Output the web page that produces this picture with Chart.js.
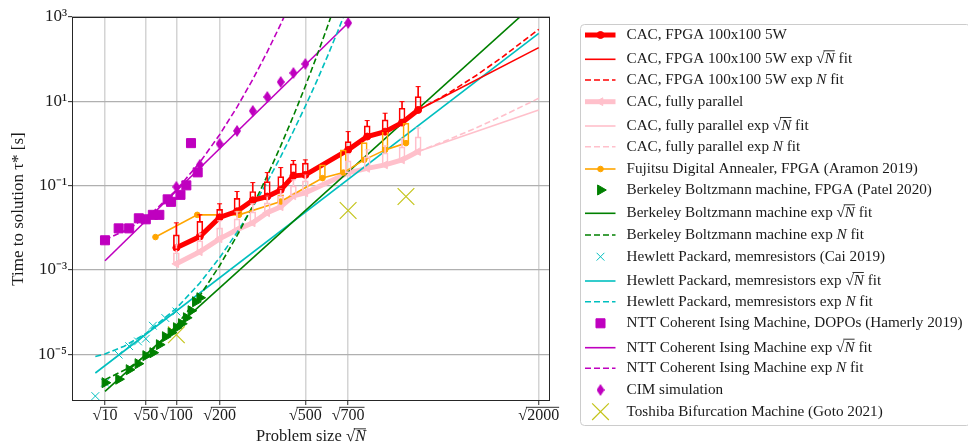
<!DOCTYPE html>
<html><head><meta charset="utf-8">
<script src="https://cdn.jsdelivr.net/npm/chart.js@4.4.1/dist/chart.umd.min.js"></script>
<style>html,body{margin:0;padding:0;background:#fff;}canvas{display:block;}</style>
</head><body>
<canvas id="c" width="968" height="447"></canvas>
<script>
// ---------------- data (x = problem size N, y = time to solution [s]) ----------------
const xTickN = [10, 50, 100, 200, 500, 700, 2000];
const xTickLabels = ['√10', '√50', '√100', '√200', '√500', '√700', '√2000'];
const yTickValues = [1e-5, 1e-3, 1e-1, 1e1, 1e3];
const yTickLabels = ['10⁻⁵', '10⁻³', '10⁻¹', '10¹', '10³'];

// CAC, FPGA 100x100 5W
const cacN = [100, 150, 200, 250, 300, 350, 400, 450, 500, 700, 800, 900, 1000, 1100];
const cacFpga = [3.36e-3, 6.2e-3, 0.0177, 0.0246, 0.0449, 0.0552, 0.0794, 0.171, 0.180, 0.705, 1.46, 1.91, 3.13, 6.25];
const cacFpgaBoxLo = [3.01e-3, 6.12e-3, 0.0173, 0.0274, 0.042, 0.0552, 0.0794, 0.198, 0.185, 0.705, 1.46, 1.91, 3.13, 6.25];
const cacFpgaBoxHi = [6.82e-3, 0.01426, 0.0274, 0.05, 0.0725, 0.125, 0.164, 0.329, 0.341, 1.11, 2.61, 3.62, 6.86, 12.9];
const cacFpgaWhisker = [0.0131, 0.0203, 0.0371, 0.0725, 0.118, 0.204, 0.268, 0.394, 0.408, 1.91, 3.49, 5.22, 9.84, 22.3];
const cacFpgaSqrtFitN = [1100, 2000];
const cacFpgaSqrtFit = [6.25, 187.5];
const cacFpgaNFitN = [1100, 1300, 1500, 1700, 2000];
const cacFpgaNFit = [6.25, 15.5, 41, 112, 511];

// CAC, fully parallel
const cacPar = [1.40e-3, 2.70e-3, 5.48e-3, 8.97e-3, 0.0131, 0.0227, 0.0315, 0.0573, 0.0675, 0.201, 0.257, 0.311, 0.408, 0.643];
const cacParBoxHi = [2.56e-3, 4.92e-3, 0.01, 0.0163, 0.0239, 0.0391, 0.0573, 0.0989, 0.13, 0.387, 0.481, 0.598, 0.83, 1.43];
const cacParWhisker = [3.95e-3, 7.21e-3, 0.01466, 0.0239, 0.0371, 0.0573, 0.084, 0.137, 0.19, 0.567, 0.705, 0.877, 1.29, 2.34];
const cacParSqrtFitN = [1100, 2000];
const cacParSqrtFit = [0.643, 6.25];
const cacParNFitN = [1100, 1300, 1500, 1700, 2000];
const cacParNFit = [0.643, 1.23, 2.35, 4.49, 11.8];

// Fujitsu Digital Annealer
const fujN = [64, 144, 256, 400, 576, 676, 784, 900, 1024];
const fuj = [6.03e-3, 0.0203, 0.0203, 0.042, 0.151, 0.204, 0.408, 0.705, 1.02];
const fujBoxN = [256, 400, 576, 676, 784, 900, 1024];
const fujBoxLo = [0.0203, 0.042, 0.151, 0.204, 0.408, 0.705, 1.02];
const fujBoxHi = [0.0253, 0.0605, 0.311, 0.705, 1.05, 2.02, 3.03];

// Berkeley Boltzmann machine
const bbmN = [10, 20, 30, 40, 50, 60, 70, 80, 90, 100, 110, 120, 130, 140, 150];
const bbm = [2.12e-6, 2.57e-6, 4.31e-6, 5.98e-6, 9.27e-6, 1.09e-5, 1.69e-5, 2.61e-5, 3.25e-5, 4.27e-5, 5.31e-5, 7.36e-5, 1.08e-4, 1.76e-4, 2.19e-4];
const bbmSqrtFitN = [10, 2000];
const bbmSqrtFit = [1.32e-6, 2540];
const bbmNFitN = [10, 30, 50, 75, 100, 150, 200, 250, 300, 350, 400, 450, 500, 550, 600, 650];
const bbmNFit = [2.5e-6, 4.8e-6, 9.3e-6, 2.1e-5, 4.8e-5, 2.45e-4, 1.26e-3, 6.5e-3, 0.033, 0.17, 0.875, 4.5, 23, 118, 610, 3100];

// Hewlett Packard memristors
const hpN = [5, 10, 20, 30, 40, 50, 60, 80, 100];
const hp = [1.02e-6, 2.12e-6, 9.8e-6, 1.56e-5, 2.02e-5, 2.34e-5, 4.76e-5, 7.24e-5, 1.04e-4];
const hpSqrtFitN = [5, 2000];
const hpSqrtFit = [3.6e-6, 411];
const hpNFitN = [5, 10, 25, 50, 100, 150, 200, 250, 300, 350, 400, 450, 500, 550, 600, 650, 700];
const hpNFit = [8.9e-6, 1.02e-5, 1.55e-5, 3.1e-5, 1.23e-4, 4.9e-4, 1.95e-3, 7.8e-3, 0.031, 0.123, 0.49, 1.95, 7.7, 30, 120, 480, 1900];

// NTT Coherent Ising Machine
const nttN = [10, 20, 30, 41, 50, 60, 70, 84, 90, 108, 120, 130, 145];
const ntt = [5.06e-3, 9.7e-3, 9.7e-3, 0.0168, 0.0159, 0.0203, 0.0203, 0.0473, 0.0413, 0.0605, 0.1016, 1.02, 0.2066];
const nttSqrtFitN = [10, 700];
const nttSqrtFit = [1.65e-3, 721];
const nttNFitN = [10, 30, 60, 100, 150, 200, 250, 300, 350, 400, 450];
const nttNFit = [5.2e-3, 9.5e-3, 0.0236, 0.0787, 0.356, 1.61, 7.3, 33, 149, 676, 3050];

// CIM simulation
const cimN = [100, 150, 200, 250, 300, 350, 400, 450, 500, 700];
const cim = [0.0937, 0.311, 0.979, 1.99, 5.93, 12.7, 28.8, 47.1, 76.9, 721];

// Toshiba Bifurcation Machine
const tbmN = [100, 700, 1024];
const tbm = [2.91e-5, 0.0257, 0.0552];

// ---------------- helpers ----------------
const FAMILY = "'Liberation Serif', 'Times New Roman', serif";
const pts = (ns, vs) => ns.map((n, i) => ({ x: Math.sqrt(n), y: vs[i] }));
const rng = (ns, lo, hi) => ns.map((n, i) => ({ x: Math.sqrt(n), y: [lo[i], hi[i]] }));

const RED = '#ff0000', PINK = '#ffc0cb', ORANGE = '#ffa500', GREEN = '#008000',
      CYAN = '#00bfbf', MAG = '#bf00bf', OLIVE = '#c4c41a';
const DASH = [6, 3];

function thinDiamond(w, h, color) {
  const c = document.createElement('canvas'); c.width = w; c.height = h;
  const g = c.getContext('2d'); g.fillStyle = color; g.beginPath();
  g.moveTo(w / 2, 0); g.lineTo(w, h / 2); g.lineTo(w / 2, h); g.lineTo(0, h / 2); g.closePath(); g.fill();
  return c;
}
const diamondImg = thinDiamond(8, 12, MAG);

function lineDs(label, data, color, width, dash, order) {
  return { type: 'line', label, data, borderColor: color, borderWidth: width, borderDash: dash || [],
    pointRadius: 0, fill: false, order: order };
}
function markerDs(label, data, color, style, radius, rotation, bw, order) {
  return { type: 'line', label, data, showLine: false, borderColor: color, backgroundColor: color,
    pointStyle: style, pointRadius: radius, pointRotation: rotation || 0,
    pointBackgroundColor: color, pointBorderColor: color, pointBorderWidth: bw || 1, order: order || 0 };
}
function boxDs(data, color) {
  return { type: 'bar', data, borderColor: color, backgroundColor: 'rgba(0,0,0,0)', borderWidth: 1,
    borderSkipped: false, barThickness: 6, grouped: false, order: 1 };
}
function whiskDs(data, color) {
  return { type: 'bar', data, backgroundColor: color, borderWidth: 0, barThickness: 1, grouped: false, order: 1 };
}
function capDs(data, color) {
  return { type: 'line', data, showLine: false, pointStyle: 'line', pointRadius: 2.5,
    pointBorderColor: color, pointBorderWidth: 1, order: 1 };
}

const datasets = [
  Object.assign(lineDs('CAC, FPGA 100x100 5W', pts(cacN, cacFpga), RED, 5, null, 2),
    { pointStyle: 'circle', pointRadius: 3.5, pointBorderWidth: 1, pointBackgroundColor: RED, pointBorderColor: RED }),
  lineDs('CAC, FPGA 100x100 5W exp √N fit', pts(cacFpgaSqrtFitN, cacFpgaSqrtFit), RED, 1.6, null, 3),
  lineDs('CAC, FPGA 100x100 5W exp N fit', pts(cacFpgaNFitN, cacFpgaNFit), RED, 1.6, DASH, 3),
  Object.assign(lineDs('CAC, fully parallel', pts(cacN, cacPar), PINK, 5, null, 4),
    { pointStyle: 'triangle', pointRotation: -90, pointRadius: 4.5, pointBorderWidth: 1, pointBackgroundColor: PINK, pointBorderColor: PINK }),
  lineDs('CAC, fully parallel exp √N fit', pts(cacParSqrtFitN, cacParSqrtFit), PINK, 1.6, null, 3),
  lineDs('CAC, fully parallel exp N fit', pts(cacParNFitN, cacParNFit), PINK, 1.6, DASH, 3),
  Object.assign(lineDs('Fujitsu Digital Annealer, FPGA (Aramon 2019)', pts(fujN, fuj), ORANGE, 1.6, null, 2),
    { pointStyle: 'circle', pointRadius: 2.8, pointBorderWidth: 1, pointBackgroundColor: ORANGE, pointBorderColor: ORANGE }),
  markerDs('Berkeley Boltzmann machine, FPGA (Patel 2020)', pts(bbmN, bbm), GREEN, 'triangle', 5.8, 90, 1, 0),
  lineDs('Berkeley Boltzmann machine exp √N fit', pts(bbmSqrtFitN, bbmSqrtFit), GREEN, 1.6, null, 3),
  lineDs('Berkeley Boltzmann machine exp N fit', pts(bbmNFitN, bbmNFit), GREEN, 1.6, DASH, 3),
  markerDs('Hewlett Packard, memresistors (Cai 2019)', pts(hpN, hp), CYAN, 'crossRot', 5.5, 0, 1, 0),
  lineDs('Hewlett Packard, memresistors exp √N fit', pts(hpSqrtFitN, hpSqrtFit), CYAN, 1.6, null, 3),
  lineDs('Hewlett Packard, memresistors exp N fit', pts(hpNFitN, hpNFit), CYAN, 1.6, DASH, 3),
  markerDs('NTT Coherent Ising Machine, DOPOs (Hamerly 2019)', pts(nttN, ntt), MAG, 'rect', 6.4, 0, 1, 0),
  lineDs('NTT Coherent Ising Machine exp √N fit', pts(nttSqrtFitN, nttSqrtFit), MAG, 1.6, null, 3),
  lineDs('NTT Coherent Ising Machine exp N fit', pts(nttNFitN, nttNFit), MAG, 1.6, DASH, 3),
  markerDs('CIM simulation', pts(cimN, cim), MAG, diamondImg, 5, 0, 1, 0),
  markerDs('Toshiba Bifurcation Machine (Goto 2021)', pts(tbmN, tbm), OLIVE, 'crossRot', 11.8, 0, 1.2, 0),
  // box plots
  boxDs(rng(cacN, cacFpgaBoxLo, cacFpgaBoxHi), RED),
  whiskDs(rng(cacN, cacFpgaBoxHi, cacFpgaWhisker), RED),
  capDs(pts(cacN, cacFpgaWhisker), RED),
  boxDs(rng(cacN, cacPar, cacParBoxHi), PINK),
  whiskDs(rng(cacN, cacParBoxHi, cacParWhisker), PINK),
  capDs(pts(cacN, cacParWhisker), PINK),
  boxDs(rng(fujBoxN, fujBoxLo, fujBoxHi), ORANGE)
];

// ---------------- text helpers ----------------
function richParts(str) {
  const out = []; const re = /√(N|\d+)|\bN\b/g; let last = 0, m;
  while ((m = re.exec(str))) {
    if (m.index > last) out.push({ t: str.slice(last, m.index) });
    if (m[0][0] === '√') { out.push({ t: '√' }); out.push({ t: m[1], italic: m[1] === 'N', over: true }); }
    else out.push({ t: 'N', italic: true });
    last = re.lastIndex;
  }
  if (last < str.length) out.push({ t: str.slice(last) });
  return out;
}
function drawRich(ctx, str, x, y, size, align) {
  const normal = size + 'px ' + FAMILY, italic = 'italic ' + normal;
  const parts = richParts(str);
  ctx.textBaseline = 'middle'; ctx.textAlign = 'left';
  let total = 0;
  parts.forEach(p => { ctx.font = p.italic ? italic : normal; p.w = ctx.measureText(p.t).width; total += p.w; });
  ctx.font = normal;
  const asc = ctx.measureText('√').actualBoundingBoxAscent;
  let cx = align === 'center' ? x - total / 2 : x;
  parts.forEach(p => {
    ctx.font = p.italic ? italic : normal;
    ctx.fillText(p.t, cx, y);
    if (p.over) {
      ctx.beginPath(); ctx.lineWidth = 0.9;
      ctx.moveTo(cx - 1.2, y - asc + 0.5); ctx.lineTo(cx + p.w, y - asc + 0.5); ctx.stroke();
    }
    cx += p.w;
  });
}
function drawMarker(ctx, ds, x, y) {
  const st = ds.pointStyle, r = ds.pointRadius, rot = (ds.pointRotation || 0) * Math.PI / 180;
  ctx.save();
  ctx.fillStyle = ds.pointBackgroundColor; ctx.strokeStyle = ds.pointBorderColor; ctx.lineWidth = ds.pointBorderWidth || 1;
  ctx.setLineDash([]);
  if (st && typeof st === 'object') { ctx.drawImage(st, x - st.width / 2, y - st.height / 2); ctx.restore(); return; }
  ctx.beginPath();
  if (st === 'circle') { ctx.arc(x, y, r, 0, Math.PI * 2); ctx.fill(); ctx.stroke(); }
  else if (st === 'triangle') {
    let a = rot;
    ctx.moveTo(x + Math.sin(a) * r, y - Math.cos(a) * r); a += 2 * Math.PI / 3;
    ctx.lineTo(x + Math.sin(a) * r, y - Math.cos(a) * r); a += 2 * Math.PI / 3;
    ctx.lineTo(x + Math.sin(a) * r, y - Math.cos(a) * r); ctx.closePath(); ctx.fill(); ctx.stroke();
  } else if (st === 'rect') { const h = r * Math.SQRT1_2; ctx.rect(x - h, y - h, 2 * h, 2 * h); ctx.fill(); ctx.stroke(); }
  else if (st === 'crossRot') {
    const h = r * Math.SQRT1_2;
    ctx.moveTo(x - h, y - h); ctx.lineTo(x + h, y + h); ctx.moveTo(x - h, y + h); ctx.lineTo(x + h, y - h); ctx.stroke();
  }
  ctx.restore();
}

const decor = {
  id: 'decor',
  afterDraw(chart) {
    const ctx = chart.ctx, a = chart.chartArea;
    ctx.save();
    // axes frame
    ctx.strokeStyle = '#262626'; ctx.lineWidth = 1; ctx.setLineDash([]);
    ctx.strokeRect(Math.round(a.left) + 0.5, Math.round(a.top) + 0.5, Math.round(a.right - a.left) - 1, Math.round(a.bottom - a.top) - 1);
    // radical overlines on x tick labels
    const xs = chart.scales.x;
    const font16 = '16px ' + FAMILY;
    ctx.font = font16; ctx.textBaseline = 'middle'; ctx.strokeStyle = '#1a1a1a'; ctx.fillStyle = '#1a1a1a';
    let items = null;
    try { items = xs.getLabelItems(); } catch (e) { items = null; }
    const asc = ctx.measureText('√').actualBoundingBoxAscent;
    xs.ticks.forEach((t, i) => {
      const px = xs.getPixelForValue(t.value);
      let my = xs.top + 4 + 1 + 9.6;
      if (items && items[i]) my = items[i].options.translation[1] + (items[i].textOffset || 0);
      const lab = xTickLabels[i];
      const W = ctx.measureText(lab).width, ws = ctx.measureText('√').width;
      ctx.beginPath(); ctx.lineWidth = 0.9;
      ctx.moveTo(px - W / 2 + ws - 1.2, my - asc + 0.5); ctx.lineTo(px + W / 2, my - asc + 0.5); ctx.stroke();
    });
    // x axis title
    drawRich(ctx, 'Problem size √N', (a.left + a.right) / 2, 437, 16.5, 'center');
    // legend
    const lx = 580.5, ly = 24.5, lw = 390, lh = 401;
    ctx.beginPath();
    if (ctx.roundRect) ctx.roundRect(lx, ly, lw, lh, 4); else ctx.rect(lx, ly, lw, lh);
    ctx.fillStyle = 'rgba(255,255,255,0.85)'; ctx.fill();
    ctx.strokeStyle = '#cccccc'; ctx.lineWidth = 1; ctx.stroke();
    const rows = [35, 59.3, 80, 101.7, 126, 146.7, 169, 190, 213.3, 235, 256.7, 281, 301.7, 323.3, 347.7, 368.3, 390, 411.7];
    let k = 0;
    chart.data.datasets.forEach(ds => {
      if (!ds.label) return;
      const y = rows[k++];
      if (ds.showLine !== false) {
        ctx.save(); ctx.beginPath(); ctx.strokeStyle = ds.borderColor; ctx.lineWidth = ds.borderWidth;
        ctx.setLineDash(ds.borderDash || []); ctx.moveTo(585, y); ctx.lineTo(615.5, y); ctx.stroke(); ctx.restore();
      }
      if (ds.pointRadius > 0) drawMarker(ctx, ds, 600.5, y);
      ctx.fillStyle = '#1a1a1a'; ctx.strokeStyle = '#1a1a1a';
      drawRich(ctx, ds.label, 626.5, y, 15.2, 'left');
    });
    ctx.restore();
  }
};

Chart.defaults.font.family = FAMILY;
Chart.defaults.font.size = 16;
Chart.defaults.color = '#1a1a1a';

new Chart(document.getElementById('c'), {
  type: 'line',
  data: { datasets },
  plugins: [decor],
  options: {
    responsive: false, devicePixelRatio: 1, animation: false, events: [],
    layout: { padding: { left: 0, right: 418, top: 17, bottom: 0 } },
    plugins: { legend: { display: false }, tooltip: { enabled: false } },
    scales: {
      x: {
        type: 'linear', min: 0, max: 45.8, offset: false,
        afterBuildTicks: s => { s.ticks = xTickN.map(n => ({ value: Math.sqrt(n) })); },
        afterFit: s => { s.height = 46; },
        ticks: { autoSkip: false, maxRotation: 0, padding: 1, callback: (v, i) => xTickLabels[i], font: { size: 16 } },
        grid: { color: '#d4d4d4', lineWidth: 1.5, offset: false, drawTicks: true, tickLength: 4, tickColor: '#262626', tickWidth: 1 },
        border: { display: false }
      },
      y: {
        type: 'logarithmic', min: 7.8e-7, max: 1000, beginAtZero: false,
        afterBuildTicks: s => { s.ticks = yTickValues.map(v => ({ value: v })); },
        afterFit: s => { s.width = 72; },
        ticks: { autoSkip: false, padding: 1, callback: (v, i) => yTickLabels[i], font: { size: 17 } },
        grid: { color: '#b0b0b0', lineWidth: 1.3, drawTicks: true, tickLength: 4, tickColor: '#262626', tickWidth: 1 },
        border: { display: false },
        title: { display: true, text: 'Time to solution τ* [s]', font: { size: 17 }, padding: { top: 8, bottom: 0 } }
      }
    }
  }
});
</script>
</body></html>
